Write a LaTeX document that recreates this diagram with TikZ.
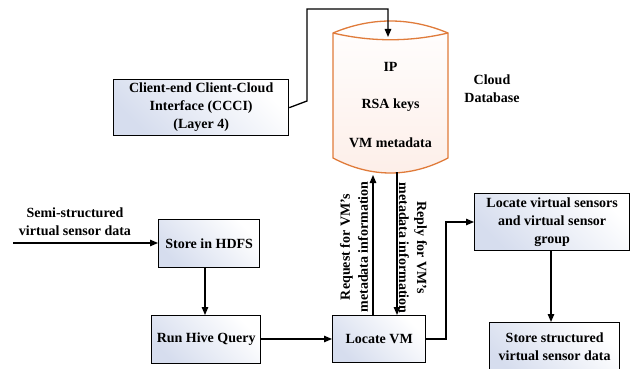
\documentclass[tikz,border=0pt]{standalone}
\usepackage{fontspec}
\setmainfont{Liberation Serif}
\usetikzlibrary{arrows.meta}
\definecolor{boxblue}{HTML}{D6DDEE}
\definecolor{dborange}{HTML}{E07B3A}
\definecolor{dbfill}{HTML}{FDEEE8}
\begin{document}
\begin{tikzpicture}[x=1pt,y=-1pt,
  txt/.style={font=\bfseries\fontsize{14}{18}\selectfont},
  box/.style={draw=black,line width=1.3pt,top color=white,bottom color=boxblue,shading angle=-45,
    align=center,txt,inner sep=0pt,anchor=north west},
  lab/.style={align=center,txt,inner sep=0pt},
  conn/.style={line width=1.3pt,-{Triangle[length=8pt,width=6.5pt]}}]
\useasboundingbox (0,0) rectangle (630,369);

% boxes
\node[box,minimum width=175pt,minimum height=56pt] (ccci) at (113,79)
  {Client-end Client-Cloud\\Interface (CCCI)\\(Layer 4)};
\node[box,minimum width=101pt,minimum height=48pt] (hdfs) at (158,219) {Store in HDFS};
\node[box,minimum width=109pt,minimum height=48pt] (hive) at (151,315) {Run Hive Query};
\node[box,minimum width=93pt,minimum height=47pt] (locvm) at (332,315) {Locate VM};
\node[box,minimum width=155pt,minimum height=57pt] (locvs) at (474,193)
  {Locate virtual sensors\\and virtual sensor\\group};
\node[box,minimum width=130pt,text height=20pt,text depth=36pt,anchor=north west] (store) at (489,322)
  {\begin{tabular}[t]{@{}c@{}}Store structured\\virtual sensor data\end{tabular}};

% cloud database cylinder
\path[draw=dborange,line width=1.3pt,top color=white,bottom color=dbfill]
  (333,33) -- (333,158) .. controls (371,178) and (410,178) .. (448,158)
  -- (448,33) .. controls (410,17) and (371,17) .. (333,33) -- cycle;
\draw[dborange,line width=1.3pt] (333,33) .. controls (371,42) and (410,42) .. (448,33);
\node[lab] (ip) at (390.5,67) {IP};
\node[lab] (rsa) at (390.5,105) {RSA keys};
\node[lab] (vmm) at (390.5,143) {VM metadata};
\node[lab,align=center] (cloud) at (492,89) {Cloud\\Database};
\coordinate (dbtop) at (388,37);
\coordinate (dbreq) at (373,175);
\coordinate (dbrep) at (397,172);
\coordinate (inp) at (13,243);

% connectors
\draw[conn] (ccci.east) -- (307,101) -- (307,9) -- (388,9) -- (dbtop);
\draw[conn] (inp) -- (hdfs.west |- inp);
\node[lab] (semi) at (75,222) {Semi-structured\\virtual sensor data};
\draw[conn] (hdfs.south -| 205,0) -- (hive.north -| 205,0);
\draw[conn] (hive.east |- 0,339) -- (locvm.west |- 0,339);
\draw[conn] (locvm.north -| dbreq) -- (dbreq);
\draw[conn] (dbrep) -- (locvm.north -| dbrep);
\draw[conn] (locvm.east |- 0,339) -- (446,339) -- (446,222) -- (locvs.west |- 0,222);
\draw[conn] (locvs.south -| 551,0) -- (store.north -| 551,0);

% rotated labels
\node[lab,rotate=90] (req) at (354,247) {Request for VM's\\metadata information};
\node[lab,rotate=-90] (rep) at (413,248) {Reply for VM's\\metadata information};
\end{tikzpicture}
\end{document}
